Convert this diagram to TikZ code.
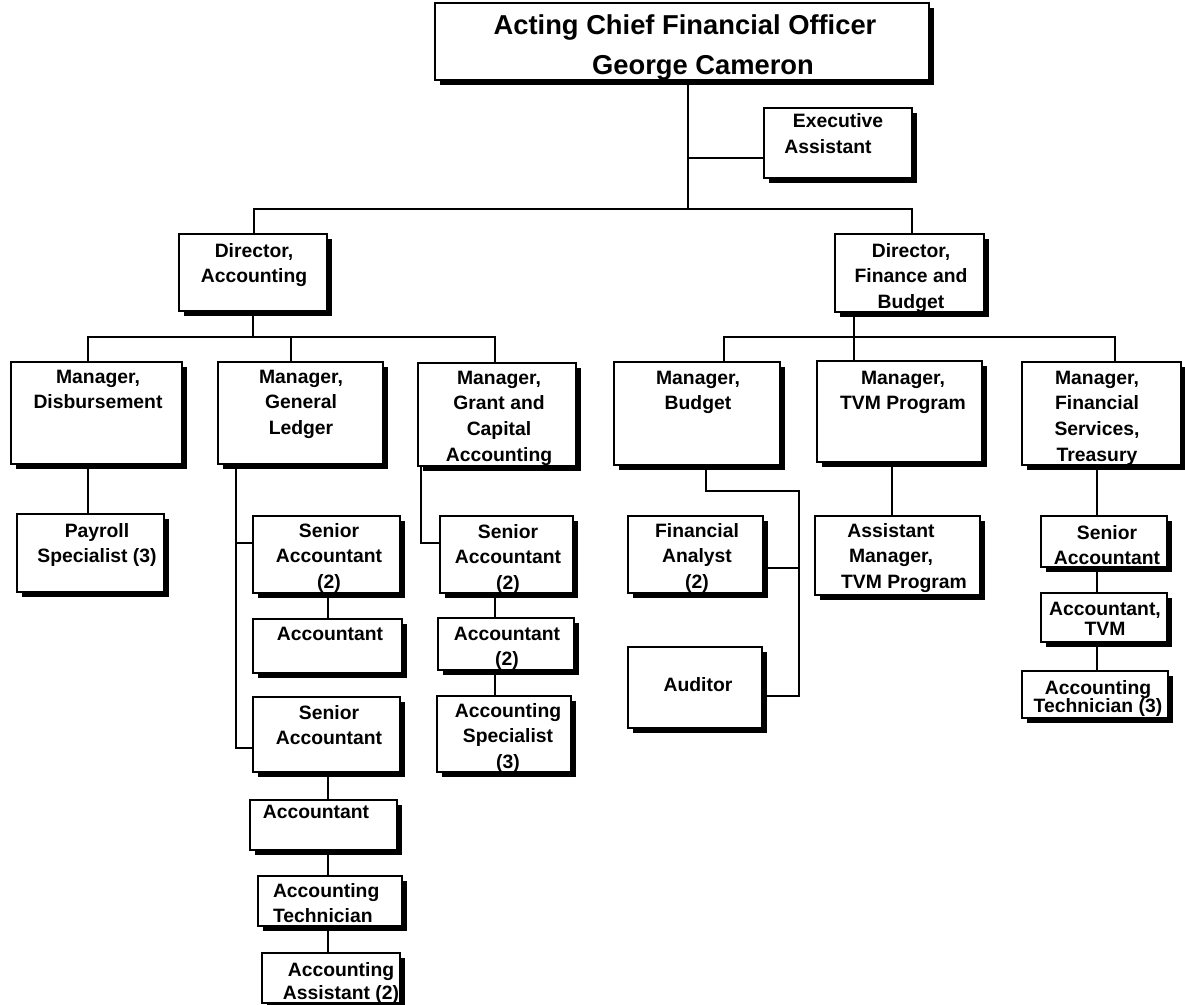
\documentclass[tikz,border=0pt]{standalone}
\usepackage{fontspec}
\setmainfont{Liberation Sans}
\usetikzlibrary{shadows,backgrounds}

% a framed position box with a solid drop shadow, given by its corners
\newcommand\orgbox[5]{%
  \node[box, minimum width={(#4-#2)*0.75pt}, minimum height={(#5-#3)*0.75pt}]
    (#1) at ({(#2+#4)/2},{(#3+#5)/2}) {};}

\begin{document}
\begin{tikzpicture}[x=0.75pt,y=-0.75pt,
  box/.style={draw=black, line width=0.8pt, fill=white, inner sep=0pt, outer sep=0pt,
    drop shadow={shadow xshift=3.4pt, shadow yshift=-3.4pt, fill=black, opacity=1}},
  lbl/.style={inner sep=0pt, outer sep=0pt, align=center, anchor=north,
    font=\fontsize{14.5pt}{19.2pt}\selectfont\bfseries},
  headlbl/.style={lbl, font=\fontsize{20.5pt}{30pt}\selectfont\bfseries},
  conn/.style={line width=1.8pt, line join=miter}]
\useasboundingbox (0,0) rectangle (1185,1005);

% ---- boxes ----
\orgbox{cfo}{435}{3}{929}{80}
\orgbox{ea}{764}{108}{912}{178}
\orgbox{dacc}{179}{234}{327}{311}
\orgbox{dfb}{835}{234}{984}{312}
\orgbox{mdis}{11}{362}{182}{464}
\orgbox{mgl}{218}{362}{383}{464}
\orgbox{mgr}{418}{363}{576}{466}
\orgbox{mbud}{614}{362}{780}{465}
\orgbox{mtvm}{817}{361}{982}{462}
\orgbox{mfst}{1022}{362}{1181}{465}
\orgbox{pay}{17}{514}{164}{592}
\orgbox{gsa1}{253}{516}{400}{593}
\orgbox{gacc1}{253}{619}{402}{673}
\orgbox{gsa2}{253}{697}{400}{772}
\orgbox{gacc2}{250}{800}{397}{850}
\orgbox{gtech}{258}{876}{402}{926}
\orgbox{gasst}{262}{953}{400}{1003}
\orgbox{rsa}{440}{516}{573}{593}
\orgbox{racc}{438}{618}{574}{670}
\orgbox{rspec}{437}{696}{571}{772}
\orgbox{fa}{628}{516}{763}{593}
\orgbox{aud}{628}{647}{762}{728}
\orgbox{am}{815}{516}{980}{595}
\orgbox{tsa}{1041}{516}{1167}{567}
\orgbox{tacc}{1041}{593}{1167}{642}
\orgbox{ttech}{1022}{671}{1168}{718}

% ---- labels ----
\node[headlbl] (cfo-t) at (685,15) {Acting Chief Financial Officer\\\hspace*{27pt}George Cameron};
\node[lbl] (ea-t) at (828,113) {\hspace*{15pt}Executive\\[0.8pt]Assistant};
\node[lbl] (dacc-t) at (254,243) {Director,\\Accounting};
\node[lbl] (dfb-t) at (911,243) {Director,\\Finance and\\Budget};
\node[lbl] (mdis-t) at (98,370) {Manager,\\Disbursement};
\node[lbl] (mgl-t) at (301,370) {Manager,\\General\\Ledger};
\node[lbl] (mgr-t) at (499,371) {Manager,\\Grant and\\Capital\\Accounting};
\node[lbl] (mbud-t) at (698,371) {Manager,\\Budget};
\node[lbl] (mtvm-t) at (903,371) {Manager,\\TVM Program};
\node[lbl] (mfst-t) at (1097,371) {Manager,\\Financial\\Services,\\Treasury};
\node[lbl] (pay-t) at (97,523) {Payroll\\Specialist (3)};
\node[lbl] (gsa1-t) at (329,523) {Senior\\Accountant\\(2)};
\node[lbl] (gacc1-t) at (330,627) {Accountant};
\node[lbl] (gsa2-t) at (329,705) {Senior\\Accountant};
\node[lbl] (gacc2-t) at (316,805) {Accountant};
\node[lbl, anchor=north west, align=left] (gtech-t) at (273,883) {Accounting\\Technician};
\node[lbl] (gasst-t) at (341,962) {Accounting\\[-1.8pt]Assistant (2)};
\node[lbl] (rsa-t) at (508,524) {Senior\\Accountant\\(2)};
\node[lbl] (racc-t) at (507,627) {Accountant\\(2)};
\node[lbl] (rspec-t) at (508,703) {Accounting\\Specialist\\(3)};
\node[lbl] (fa-t) at (697,523) {Financial\\Analyst\\(2)};
\node[lbl] (aud-t) at (698,677) {Auditor};
\node[lbl] (am-t) at (891,523) {Assistant\\Manager,\\\hspace*{19.5pt}TVM Program};
\node[lbl] (tsa-t) at (1107,525) {Senior\\Accountant};
\node[lbl] (tacc-t) at (1105,602) {Accountant,\\[-4pt]TVM};
\node[lbl] (ttech-t) at (1098,680) {Accounting\\[-5.5pt]Technician (3)};

% ---- reporting lines ----
\begin{scope}[on background layer]
  % chief officer, assistant and the two directors
  \coordinate (trunk) at (688,209);
  \coordinate (eaj) at (688,158);
  \coordinate (b1L) at (254,209);
  \coordinate (b1R) at (912,209);
  \draw[conn] (cfo.south -| trunk) -- (trunk);
  \draw[conn] (eaj) -- (eaj -| ea.west);
  \draw[conn] (b1L |- dacc.north) -- (b1L) -- (b1R) -- (b1R |- dfb.north);

  % accounting managers
  \coordinate (b2L) at (88,337);
  \coordinate (b2M) at (291,337);
  \coordinate (b2R) at (495,337);
  \draw[conn] (dacc.south) -- (dacc.south |- b2L);
  \draw[conn] (b2L |- mdis.north) -- (b2L) -- (b2R) -- (b2R |- mgr.north);
  \draw[conn] (b2M) -- (b2M |- mgl.north);

  % finance and budget managers
  \coordinate (b3L) at (724,337);
  \coordinate (b3M) at (854,337);
  \coordinate (b3R) at (1115,337);
  \draw[conn] (b3M |- dfb.south) -- (b3M |- mtvm.north);
  \draw[conn] (b3L |- mbud.north) -- (b3L) -- (b3R) -- (b3R |- mfst.north);

  % disbursement
  \draw[conn] (b2L |- mdis.south) -- (b2L |- pay.north);

  % general ledger
  \coordinate (gl1) at (236,543);
  \coordinate (gl2) at (236,748);
  \coordinate (glc) at (328,0);
  \draw[conn] (gl1 |- mgl.south) -- (gl2) -- (gl2 -| gsa2.west);
  \draw[conn] (gl1) -- (gl1 -| gsa1.west);
  \draw[conn] (glc |- gsa1.south) -- (glc |- gacc1.north);
  \draw[conn] (glc |- gsa2.south) -- (glc |- gacc2.north);
  \draw[conn] (glc |- gacc2.south) -- (glc |- gtech.north);
  \draw[conn] (glc |- gtech.south) -- (glc |- gasst.north);

  % grant and capital accounting
  \coordinate (g1) at (421,543);
  \coordinate (gc) at (495,0);
  \draw[conn] (g1 |- mgr.south) -- (g1) -- (g1 -| rsa.west);
  \draw[conn] (gc |- rsa.south) -- (gc |- racc.north);
  \draw[conn] (gc |- racc.south) -- (gc |- rspec.north);

  % budget
  \coordinate (bu1) at (706,491);
  \coordinate (bu2) at (799,491);
  \coordinate (bu3) at (799,696);
  \coordinate (bu4) at (799,568);
  \draw[conn] (bu1 |- mbud.south) -- (bu1) -- (bu2) -- (bu3) -- (aud.east |- bu3);
  \draw[conn] (bu4) -- (fa.east |- bu4);

  % TVM program
  \coordinate (tc) at (892,0);
  \draw[conn] (tc |- mtvm.south) -- (tc |- am.north);

  % financial services, treasury
  \coordinate (fc) at (1097,0);
  \draw[conn] (fc |- mfst.south) -- (fc |- tsa.north);
  \draw[conn] (fc |- tsa.south) -- (fc |- tacc.north);
  \draw[conn] (fc |- tacc.south) -- (fc |- ttech.north);
\end{scope}
\end{tikzpicture}
\end{document}
